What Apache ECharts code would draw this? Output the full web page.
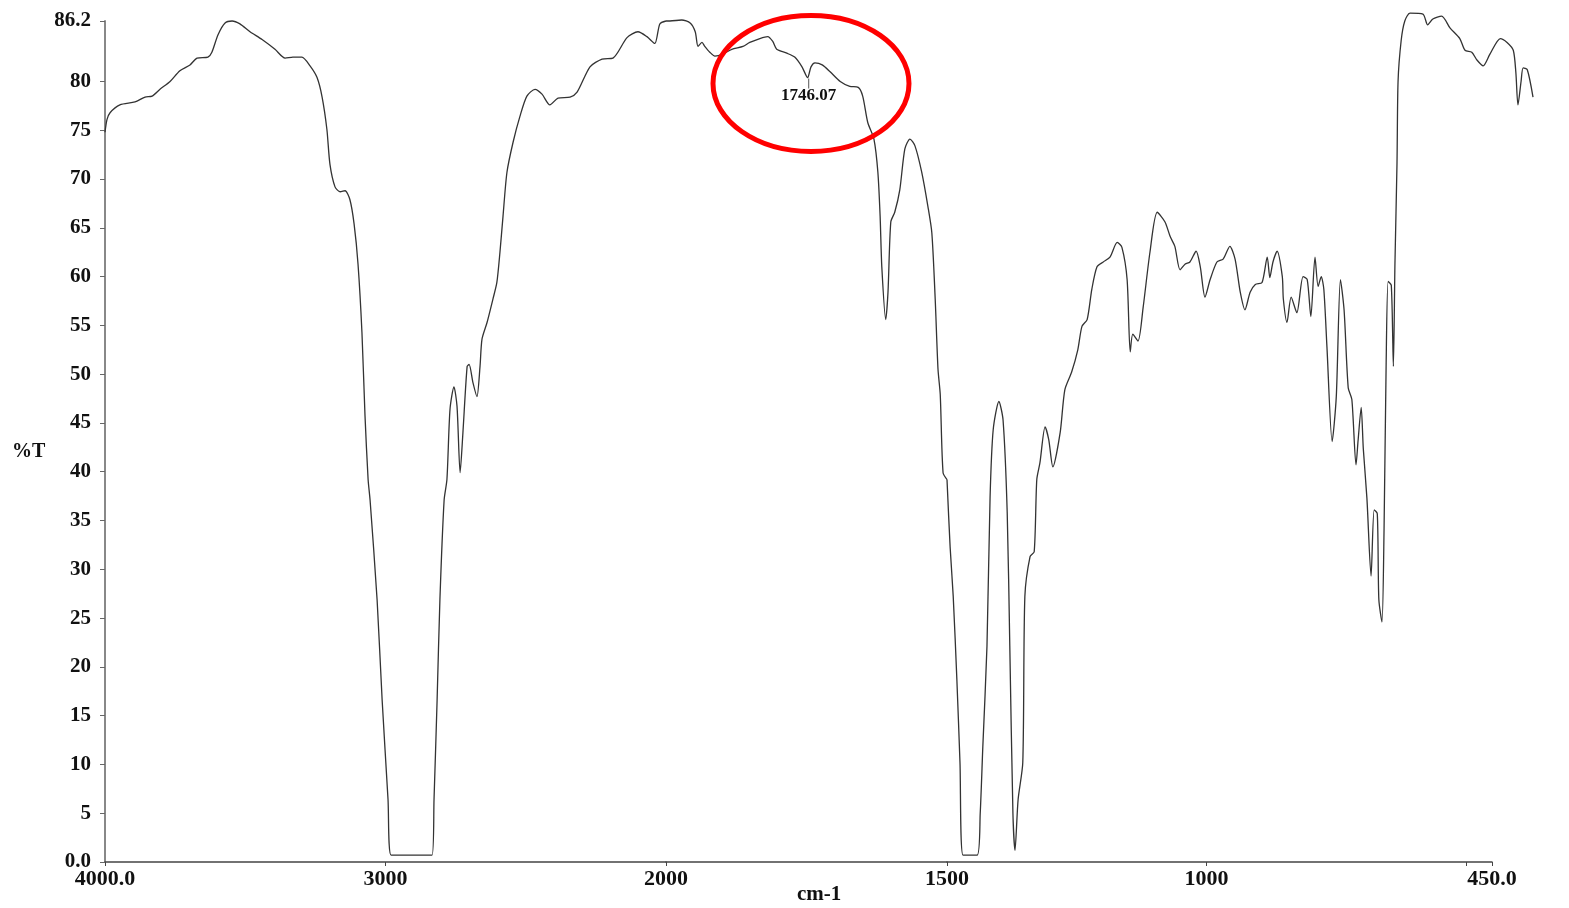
<!DOCTYPE html>
<html><head><meta charset="utf-8">
<script src="https://cdn.jsdelivr.net/npm/echarts@6/dist/echarts.min.js"></script>
<style>html,body{margin:0;padding:0;background:#fff}#c{width:1569px;height:908px}</style>
</head><body><div id="c"></div>
<script>
// IR spectrum: wavenumber (cm-1) and %T
const wavenumber = [
4000,3993,3982,3947,3893,3857,3832,3804,3768,3733,3697,3672,3633,3619,3597,3572,3547,3519,3483,3440,
3394,3358,3330,3298,3269,3244,3226,3209,3198,3180,3162,3144,3127,3112,3098,3084,3073,3062,3055,3030,
3012,2991,2980,2834,2827,2816,2806,2791,2781,2770,2756,2745,2734,2724,2709,2702,2688,2674,2663,2656,
2638,2617,2603,2592,2581,2567,2545,2521,2496,2467,2442,2414,2385,2342,2317,2271,2228,2189,2139,2100,
2068,2040,2022,2000,
1993,1972,1957,1948,1943,1936,1931,1922,1913,1899,1883,1863,1851,1833,1819,1810,1803,1785,1771,1758,
1748,1742,1735,1722,1708,1690,1673,1658,1650,1641,1630,1623,1619,1616,1609,1605,1600,1593,1584,1575,
1566,1557,1545,1534,1527,1521,1516,1512,1507,1500,
1494,1488,1481,1475,1469,1442,1436,1431,1423,1417,1411,1400,1392,1384,1379,1373,1369,1363,1354,1350,
1340,1332,1327,1321,1311,1304,1296,1282,1273,1260,1248,1240,1230,1221,1211,1199,1186,1172,1163,1153,
1147,1142,1132,1122,1109,1095,1080,1070,1061,1051,1041,1032,1020,1012,1003,993,980,968,955,945,
935,926,916,906,893,883,878,872,864,854,852,845,837,826,814,806,799,791,785,779,
774,768,758,750,742,735,727,720,712,708,702,698,691,683,677,671,668,662,658,654,
650,644,640,637,633,631,625,618,608,583,574,564,547,531,512,502,489,479,467,454,
434,421,409,404,400,394,390,382,371
];
const transmittance = [
74.8,76.1,76.8,77.6,77.9,78.4,78.5,79.2,80.0,81.1,81.7,82.4,82.5,83.0,84.8,86.0,86.2,85.9,85.1,84.3,
83.3,82.4,82.5,82.5,81.6,80.4,78.4,75.1,71.5,69.2,68.7,68.8,67.9,65.4,61.3,54.3,45.7,39.2,37.1,26.9,
16.6,6.4,0.7,0.7,6.4,16.6,26.9,37.1,39.2,46.4,48.7,46.7,39.9,44.0,50.8,51.0,49.1,47.7,50.8,53.6,
55.3,57.7,59.4,62.5,66.2,70.7,73.8,76.4,78.5,79.2,78.7,77.6,78.3,78.4,78.9,81.5,82.3,82.4,84.5,85.1,
84.6,83.9,85.9,86.2,
86.2,86.3,86.0,85.1,83.6,84.0,83.6,83.0,82.6,82.8,83.3,83.6,84.0,84.4,84.6,84.1,83.3,82.9,82.5,81.5,
80.4,81.5,81.9,81.7,81.0,80.0,79.5,79.4,78.5,75.8,74.1,70.7,66.2,61.0,55.6,58.4,65.6,66.6,68.9,73.1,
74.1,73.4,70.7,67.2,64.5,57.7,50.5,47.9,39.9,39.2,
32.3,27.2,18.7,10.2,0.7,0.7,5.0,11.8,22.1,37.4,44.3,47.2,45.3,35.8,22.1,5.0,1.2,6.4,10.2,27.2,
31.3,31.8,39.2,40.9,44.6,43.3,40.5,44.0,48.4,50.2,52.5,54.9,55.6,58.7,61.0,61.5,62.0,63.5,63.0,59.7,
52.3,54.1,53.4,56.9,62.5,66.6,65.6,64.1,63.1,60.7,61.3,61.5,62.6,61.0,57.9,59.7,61.5,61.8,63.1,61.8,
58.4,56.6,58.4,59.2,59.4,62.0,59.9,61.5,62.6,60.0,57.7,55.3,57.9,56.3,60.0,59.7,55.9,62.0,59.0,60.0,
58.7,52.8,43.1,47.7,59.7,56.6,48.6,47.4,40.7,43.2,46.6,42.4,37.3,29.3,36.1,35.7,26.9,24.6,34.0,50.8,
59.5,59.1,50.8,61.3,71.7,80.0,84.2,86.2,87.0,86.9,85.8,86.4,86.7,85.5,84.4,83.2,83.0,82.2,81.6,82.8,
84.4,84.0,83.2,80.9,77.6,80.0,81.4,81.2,78.4
];
const yTicks = [0,5,10,15,20,25,30,35,40,45,50,55,60,65,70,75,80,86.2];
const xLabelsLeft = [4000,3000,2000];
const xLabelsRight = [1500,1000,450];
const xTicksRight = [1500,1000,500,450];
const peakLabels = [{wavenumber:1746.07, transmittance:80.4, text:'1746.07'}];
// instrument scale changes at 2000 and 1500 cm-1; the trace runs on past the 450 end of the axis
const segments = [[2000,4000],[1500,2000],[370,1500]];
const printedAxisEnd = 450;

const serif = '"Liberation Serif","Times New Roman",serif';
const lineColor = '#333333';

function seg(lo, hi){
  const out = [];
  for (let i=0;i<wavenumber.length;i++){
    if (wavenumber[i] >= lo && wavenumber[i] <= hi) out.push([wavenumber[i], transmittance[i]]);
  }
  return out;
}
function fmt(v){
  if (v === 0) return '0.0';
  if (v === 4000 || v === 450) return v.toFixed(1);
  return String(v);
}

const chart = echarts.init(document.getElementById('c'), null, {renderer:'canvas'});
const pxPerUnitRight = 545 / (segments[2][1] - printedAxisEnd);
const grids = [
  {left:105, top:21, width:561, height:841},
  {left:666, top:21, width:281, height:841},
  {left:947, top:21, width:pxPerUnitRight * (segments[2][1] - segments[2][0]), height:841},
  {left:947, top:21, width:545, height:841}
];
const axisLine = {show:true, lineStyle:{color:'#444', width:1.5}};
const labelStyle = {color:'#111', fontFamily:serif, fontWeight:'bold', fontSize:22, margin:6};

const option = {
  backgroundColor:'#fff',
  animation:false,
  grid: grids,
  xAxis: [
    {gridIndex:0, type:'value', inverse:true, min:segments[0][0], max:segments[0][1],
     axisLine:axisLine, splitLine:{show:false},
     axisTick:{show:true, length:4, customValues:xLabelsLeft, lineStyle:{color:'#444'}},
     axisLabel:Object.assign({customValues:xLabelsLeft, formatter:fmt}, labelStyle)},
    {gridIndex:1, type:'value', inverse:true, min:segments[1][0], max:segments[1][1],
     axisLine:axisLine, splitLine:{show:false}, axisTick:{show:false}, axisLabel:{show:false}},
    {gridIndex:2, type:'value', inverse:true, min:segments[2][0], max:segments[2][1],
     axisLine:{show:false}, splitLine:{show:false}, axisTick:{show:false}, axisLabel:{show:false}},
    {gridIndex:3, type:'value', inverse:true, min:printedAxisEnd, max:segments[2][1],
     axisLine:axisLine, splitLine:{show:false},
     axisTick:{show:true, length:4, customValues:xTicksRight, lineStyle:{color:'#444'}},
     axisLabel:Object.assign({customValues:xLabelsRight, formatter:fmt}, labelStyle)}
  ],
  yAxis: [
    {gridIndex:0, type:'value', min:0, max:86.2,
     axisLine:{show:true, lineStyle:{color:'#888', width:2}}, splitLine:{show:false},
     axisTick:{show:true, length:5, customValues:yTicks, lineStyle:{color:'#666'}},
     axisLabel:{customValues:yTicks, formatter:fmt, color:'#111', fontFamily:serif, fontWeight:'bold',
       fontSize:21, margin:14, padding:[0,0,7,0]}},
    {gridIndex:1, type:'value', min:0, max:86.2, show:false},
    {gridIndex:2, type:'value', min:0, max:86.2, show:false},
    {gridIndex:3, type:'value', min:0, max:86.2, show:false}
  ],
  series: segments.map((s, i) => ({
    type:'line', xAxisIndex:i, yAxisIndex:i, data:seg(s[0], s[1]),
    showSymbol:false, symbol:'none', clip:false, smooth:0.25,
    lineStyle:{color:lineColor, width:1.3},
    markPoint: i === 1 ? {
      symbol:'rect', symbolSize:[1,10], symbolOffset:[0,6],
      itemStyle:{color:'#555'},
      data: peakLabels.map(p => ({coord:[p.wavenumber, p.transmittance], value:p.text})),
      label:{show:true, position:'bottom', distance:-1, formatter:p => p.value,
        color:'#111', fontFamily:serif, fontWeight:'bold', fontSize:17}
    } : undefined
  })),
  graphic: [
    {type:'text', left:12, top:442, style:{text:'%T', fill:'#111', font:'bold 20px ' + serif}},
    {type:'text', left:797, top:884, style:{text:'cm-1', fill:'#111', font:'bold 21px ' + serif}}
  ]
};
chart.setOption(option);

// red highlight ring around the annotated peak, placed in data coordinates
const ctr = chart.convertToPixel({xAxisIndex:1, yAxisIndex:1}, [1742, 79.8]);
chart.setOption({graphic: option.graphic.concat([
  {type:'ellipse', shape:{cx:ctr[0], cy:ctr[1], rx:98, ry:68},
   style:{fill:'none', stroke:'#ff0000', lineWidth:5}, z:100}
])});
</script></body></html>
